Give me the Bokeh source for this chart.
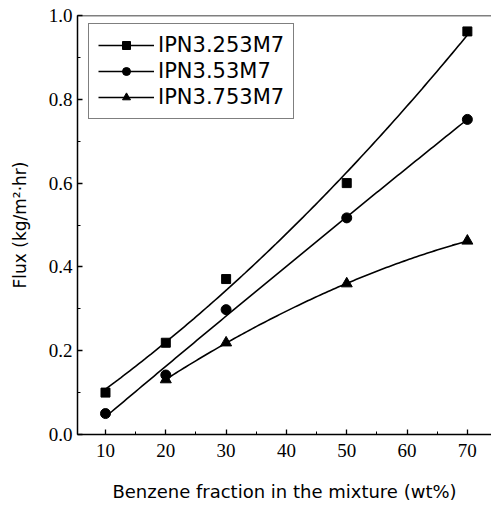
import numpy as np
from bokeh.plotting import figure
from bokeh.models import SingleIntervalTicker, Span, Legend, LegendItem, Range1d, CustomJSTickFormatter
from bokeh.embed import file_html
from bokeh.resources import INLINE

# data
x_sq = [10, 20, 30, 50, 70]
y_sq = [0.100, 0.219, 0.371, 0.600, 0.962]
x_ci = [10, 20, 30, 50, 70]
y_ci = [0.050, 0.142, 0.298, 0.517, 0.752]
x_tr = [20, 30, 50, 70]
y_tr = [0.131, 0.219, 0.360, 0.462]
names = ["IPN3.253M7", "IPN3.53M7", "IPN3.753M7"]

p = figure(width=491, height=508, output_backend="svg", toolbar_location=None,
           x_range=Range1d(5.36, 74.0), y_range=Range1d(0.0, 1.0),
           min_border_left=77, min_border_right=0, min_border_top=15, min_border_bottom=74)
p.background_fill_color = None
p.border_fill_color = "white"
p.outline_line_color = None
p.grid.visible = False

p.xaxis.ticker = SingleIntervalTicker(interval=10, num_minor_ticks=2)
p.yaxis.ticker = SingleIntervalTicker(interval=0.2, num_minor_ticks=2)
p.yaxis.formatter = CustomJSTickFormatter(code="return tick.toFixed(1);")

for ax in (p.xaxis, p.yaxis):
    ax.axis_line_color = "black"
    ax.axis_line_width = 1.5
    ax.major_tick_in = 5
    ax.major_tick_out = 0
    ax.minor_tick_in = 3
    ax.minor_tick_out = 0
    ax.major_tick_line_width = 1.3
    ax.minor_tick_line_width = 1
    ax.major_label_text_font = "Liberation Serif"
    ax.major_label_text_font_size = "19px"
    ax.major_label_text_color = "black"
    ax.axis_label_text_font = "DejaVu Sans"
    ax.axis_label_text_font_style = "normal"
    ax.axis_label_text_color = "black"

p.xaxis.major_label_standoff = 9
p.yaxis.major_label_standoff = 5
p.xaxis.axis_label = "Benzene fraction in the mixture (wt%)"
p.yaxis.axis_label = "Flux (kg/m\u00b2\u00b7hr)"
p.xaxis.axis_label_text_font_size = "18px"
p.yaxis.axis_label_text_font_size = "17px"
p.xaxis.axis_label_standoff = 21
p.yaxis.axis_label_standoff = 16

p.add_layout(Span(location=1.0, dimension="width", line_color="black", line_width=1.5))

def fit_line(xs, ys, deg=2):
    c = np.polyfit(xs, ys, deg)
    xx = np.linspace(min(xs), max(xs), 120)
    return xx, np.polyval(c, xx)

items = []
for xs, ys, marker, size, name in [
    (x_sq, y_sq, "square", 9, names[0]),
    (x_ci, y_ci, "circle", 10, names[1]),
    (x_tr, y_tr, "triangle", 11, names[2]),
]:
    xx, yy = fit_line(xs, ys)
    ln = p.line(xx, yy, line_color="black", line_width=1.6)
    sc = p.scatter(xs, ys, marker=marker, size=size, fill_color="black", line_color="black")
    items.append(LegendItem(label=name, renderers=[ln, sc]))

legend = Legend(items=items, location=(11, 315))
legend.border_line_color = "black"
legend.border_line_width = 1.5
legend.background_fill_alpha = 1
legend.label_text_font = "DejaVu Sans"
legend.label_text_font_size = "21px"
legend.label_text_color = "black"
legend.glyph_width = 56
legend.glyph_height = 20
legend.label_height = 20
legend.label_standoff = 4
legend.spacing = 2
legend.padding = 9
legend.margin = 0
p.add_layout(legend, "center")

open("out.html", "w").write(file_html(p, INLINE))
